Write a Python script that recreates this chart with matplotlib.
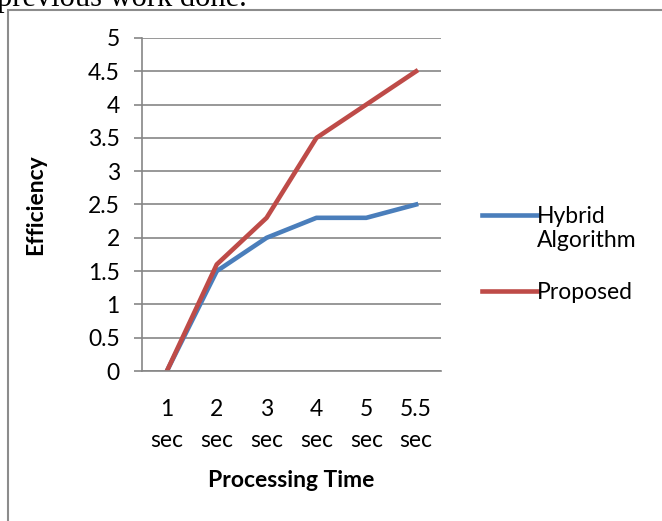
import matplotlib.pyplot as plt
from matplotlib.patches import Rectangle

categories = ['1\nsec', '2\nsec', '3\nsec', '4\nsec', '5\nsec', '5.5\nsec']
hybrid = [0, 1.5, 2.0, 2.3, 2.3, 2.5]
proposed = [0, 1.6, 2.3, 3.5, 4.0, 4.5]
y_ticks = [0, 0.5, 1, 1.5, 2, 2.5, 3, 3.5, 4, 4.5, 5]

plt.rcParams['font.family'] = ['Lato', 'DejaVu Sans']
fs = 16.5

fig = plt.figure(figsize=(6.62, 5.21), dpi=100)
ax = fig.add_axes([142 / 662, 1 - 371 / 521, 299 / 662, 333 / 521])

x = list(range(len(categories)))
ax.plot(x, hybrid, color='#4a7ebb', lw=3.3, solid_joinstyle='round', label='Hybrid\nAlgorithm')
ax.plot(x, proposed, color='#be4b48', lw=3.3, solid_joinstyle='round', label='Proposed')

ax.set_xlim(-0.5, len(categories) - 0.5)
ax.set_ylim(0, 5)
ax.set_yticks(y_ticks)
ax.set_yticklabels([f'{v:g}' for v in y_ticks])
ax.set_xticks(x)
ax.set_xticklabels(categories, linespacing=1.6)
ax.tick_params(axis='y', length=6, width=1.2, color='#868686', labelsize=fs, pad=10)
ax.tick_params(axis='x', length=0, labelsize=fs, pad=20)
ax.grid(axis='y', color='#868686', lw=1.2)
ax.set_axisbelow(True)
for s in ['top', 'right']:
    ax.spines[s].set_visible(False)
for s in ['left', 'bottom']:
    ax.spines[s].set_color('#868686')
    ax.spines[s].set_linewidth(1.2)

ax.set_ylabel('Efficiency', fontsize=fs, fontweight='bold', labelpad=30)
ax.set_xlabel('Processing Time', fontsize=fs, fontweight='bold', labelpad=14)

leg = ax.legend(loc='center left', bbox_to_anchor=(1.067, 0.35), frameon=False, fontsize=fs,
                handlelength=2.4, handletextpad=0.0, labelspacing=1.35)
# put the first handle next to the first line of its two-line label
hl = leg.get_lines()[0]
hl.set_ydata([y + 0.6 * fs for y in hl.get_ydata()])

fig.patches.append(Rectangle((8 / 662, -0.1), 1.2, 1.1 - 10 / 521, transform=fig.transFigure,
                             fill=False, edgecolor='#8c8c8c', lw=1.5, clip_on=False))
fig.text(-0.004, 1 - 6 / 521, 'previous work done.', family='Liberation Serif', fontsize=22,
         va='baseline', ha='left')

fig.savefig('out.png', dpi=100)
